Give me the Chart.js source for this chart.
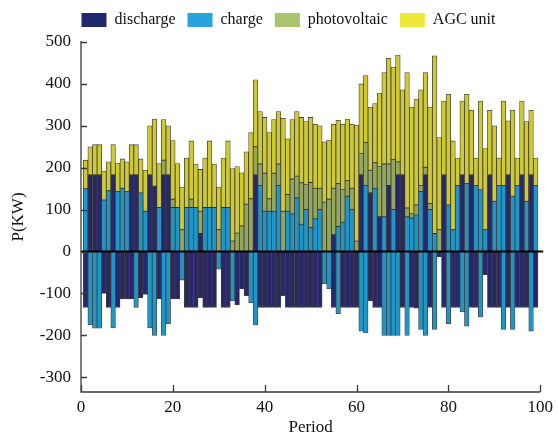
<!DOCTYPE html>
<html>
<head>
<meta charset="utf-8">
<script src="https://cdn.jsdelivr.net/npm/chart.js@4.4.1/dist/chart.umd.min.js"></script>
<style>
  html, body { margin: 0; padding: 0; background: #ffffff; }
  #wrap { width: 558px; height: 438px; }
</style>
</head>
<body>
<div id="wrap"><canvas id="c" width="558" height="438"></canvas></div>
<script>
// ---- data ----
const periods = Array.from({length: 99}, (_, i) => i + 1);

const seriesNames = ['discharge', 'charge', 'photovoltaic', 'AGC unit'];

// positive part of each bar
const dischargePos = [
  0,183,183,183,0,0,183,0,0,0,
  183,183,0,0,183,156,0,183,183,0,
  0,0,0,0,0,43,0,0,0,0,
  0,0,0,0,0,0,0,183,0,0,
  0,0,0,0,0,0,0,0,0,0,
  0,0,0,0,40,0,0,0,0,0,
  183,0,140,0,83,0,158,0,183,183,
  0,0,0,0,183,0,0,0,183,0,
  0,0,183,0,183,0,0,0,183,0,
  0,0,183,0,0,183,0,183,0
];
const chargePos = [
  150,0,0,0,123,145,0,143,151,143,
  0,0,140,96,0,0,105,0,0,105,
  105,0,105,105,105,0,105,105,105,0,
  105,105,0,0,0,0,0,0,158,96,
  96,96,158,0,96,90,128,65,100,57,
  78,100,0,0,0,60,70,132,100,0,
  0,158,0,151,0,83,0,100,0,0,
  83,80,87,143,0,100,43,0,0,111,
  52,158,0,162,0,158,148,52,0,120,
  158,158,0,132,158,0,120,0,158
];
const photovoltaic = [
  0,0,0,0,0,0,0,0,0,0,
  0,0,0,0,0,0,0,35,0,20,
  0,52,0,20,0,53,0,0,0,52,
  0,0,25,44,61,113,126,67,51,91,
  30,91,51,96,40,83,52,99,60,108,
  73,51,118,125,111,102,78,37,51,25,
  51,102,54,61,120,126,51,120,31,0,
  21,10,24,15,18,15,0,52,0,0,
  0,0,0,0,0,0,0,0,0,0,
  0,0,0,0,0,0,0,0,0
];
const agcUnit = [
  68,67,72,72,69,69,72,68,70,71,
  72,72,81,98,117,160,105,97,117,140,
  105,102,118,139,104,100,118,159,104,102,
  118,159,173,159,127,125,158,160,125,133,
  158,128,125,222,133,142,154,156,150,155,
  153,149,144,141,153,151,156,147,153,277,
  166,160,151,141,175,218,252,220,255,203,
  323,255,253,228,226,230,424,220,176,264,
  212,65,176,213,154,65,211,194,154,180,
  65,201,129,205,65,176,190,154,65
];
// negative part of each bar
const dischargeNeg = [
  -133,0,0,0,-100,-133,0,-133,-113,-113,
  -113,0,-110,-102,0,0,-113,0,0,-113,
  -113,0,-133,-133,-133,-110,-133,-133,-133,0,
  -133,-133,0,-127,-89,-105,0,0,-133,-133,
  -133,-133,-133,-105,-133,-133,-133,-133,-133,-133,
  -133,-133,0,0,-133,0,-133,-133,-133,-133,
  0,0,-118,-133,-133,0,0,0,0,-133,
  0,-133,-135,0,0,-133,0,-13,-133,0,
  -133,-133,0,0,-133,-133,0,-55,-133,-133,
  -133,0,-133,0,-133,-133,-133,0,-133
];
const chargeNeg = [
  0,-175,-183,-183,0,0,-182,0,0,0,
  0,-133,0,0,-182,-200,0,-200,-172,0,
  0,-68,0,0,0,0,0,0,0,-42,
  0,0,-118,0,0,0,-122,-175,0,0,
  0,0,0,0,0,0,0,0,0,0,
  0,0,-77,-89,0,-148,0,0,0,0,
  -190,-194,0,0,0,-200,-200,-200,-200,0,
  -200,0,0,-186,-200,0,-186,0,0,-172,
  0,0,-144,-178,0,0,-156,0,0,0,
  0,-186,0,-186,0,0,0,-190,0
];
const yTickValues = [-300,-200,-100,0,100,200,300,400,500];
const xTickValues = [0,20,40,60,80,100];

// ---- styles ----
const legendColors = ['#1f2a6e', '#29a3dc', '#a9c46c', '#ede83a'];
const barColors = ['#27276a', '#1d97ca', '#93a85c', '#cfca34'];
const serif = "'Liberation Serif', 'Times New Roman', serif";
const edge = 'rgba(35,35,28,0.85)';

const nz = arr => arr.map(v => (v === 0 ? null : v));

function ds(label, arr, color) {
  return {
    label, data: nz(arr), backgroundColor: color, borderColor: edge,
    borderWidth: 0.8, borderSkipped: false,
    categoryPercentage: 1.0, barPercentage: 1.0
  };
}

// adds a little space under the legend
const legendGap = {
  id: 'legendGap',
  beforeLayout(chart) {
    const lg = chart.legend;
    if (lg && !lg._gapPatched) {
      const orig = lg.fit;
      lg.fit = function () { orig.call(this); this.height += 4; };
      lg._gapPatched = true;
    }
  }
};

const axisDeco = {
  id: 'axisDeco',
  afterDatasetsDraw(chart) {
    const {ctx, chartArea: a, scales: {x, y}} = chart;
    ctx.save();
    const y0 = y.getPixelForValue(0);
    ctx.strokeStyle = '#000';
    ctx.lineWidth = 2;
    ctx.beginPath();
    ctx.moveTo(a.left, y0);
    ctx.lineTo(a.right + 3, y0);
    ctx.stroke();

    ctx.strokeStyle = '#3a3a3a';
    ctx.lineWidth = 1.3;
    ctx.beginPath();
    ctx.moveTo(a.left, a.top - 1);
    ctx.lineTo(a.left, a.bottom);
    ctx.lineTo(a.right, a.bottom);
    yTickValues.forEach(v => {
      const py = Math.round(y.getPixelForValue(v)) + 0.5;
      ctx.moveTo(a.left, py);
      ctx.lineTo(a.left + 6, py);
    });
    xTickValues.forEach(v => {
      const px = Math.round(x.getPixelForValue(v)) + 0.5;
      ctx.moveTo(px, a.bottom);
      ctx.lineTo(px, a.bottom - 7);
    });
    ctx.stroke();
    ctx.restore();
  }
};

new Chart(document.getElementById('c'), {
  type: 'bar',
  data: {
    labels: periods,
    datasets: [
      ds(seriesNames[0], dischargePos, barColors[0]),
      ds(seriesNames[1], chargePos, barColors[1]),
      ds(seriesNames[2], photovoltaic, barColors[2]),
      ds(seriesNames[3], agcUnit, barColors[3]),
      ds(seriesNames[0] + ' (neg)', dischargeNeg, barColors[0]),
      ds(seriesNames[1] + ' (neg)', chargeNeg, barColors[1])
    ]
  },
  options: {
    responsive: false,
    animation: false,
    devicePixelRatio: 1,
    layout: { padding: { left: 32, right: 13, top: 0, bottom: 0 } },
    plugins: {
      tooltip: { enabled: false },
      legend: {
        position: 'top',
        labels: {
          font: { family: serif, size: 16 },
          color: '#111',
          boxWidth: 25,
          boxHeight: 14,
          padding: 12,
          generateLabels: () => seriesNames.map((n, i) => ({
            text: n, fillStyle: legendColors[i], strokeStyle: legendColors[i],
            lineWidth: 0, hidden: false, datasetIndex: i, fontColor: '#111'
          }))
        }
      }
    },
    scales: {
      x: {
        type: 'linear', stacked: true, min: 0, max: 100, offset: false,
        grid: { display: false, drawTicks: false },
        border: { display: false },
        ticks: { stepSize: 20, font: { family: serif, size: 17 }, color: '#111', padding: 5, maxRotation: 0 },
        afterBuildTicks: s => { s.ticks = xTickValues.map(v => ({ value: v })); },
        title: { display: true, text: 'Period', font: { family: serif, size: 17 }, color: '#111', padding: { top: 0, bottom: 0 } },
        afterFit: s => { s.height = 46; }
      },
      y: {
        stacked: true, min: -335, max: 500,
        grid: { display: false, drawTicks: false },
        border: { display: false },
        ticks: { font: { family: serif, size: 17 }, color: '#111', padding: 10 },
        afterBuildTicks: s => { s.ticks = yTickValues.map(v => ({ value: v })); },
        title: { display: true, text: 'P(KW)', font: { family: serif, size: 17 }, color: '#111', padding: { top: -24, bottom: 0 } },
        afterFit: s => { s.width = 49; }
      }
    }
  },
  plugins: [legendGap, axisDeco]
});
</script>
</body>
</html>
